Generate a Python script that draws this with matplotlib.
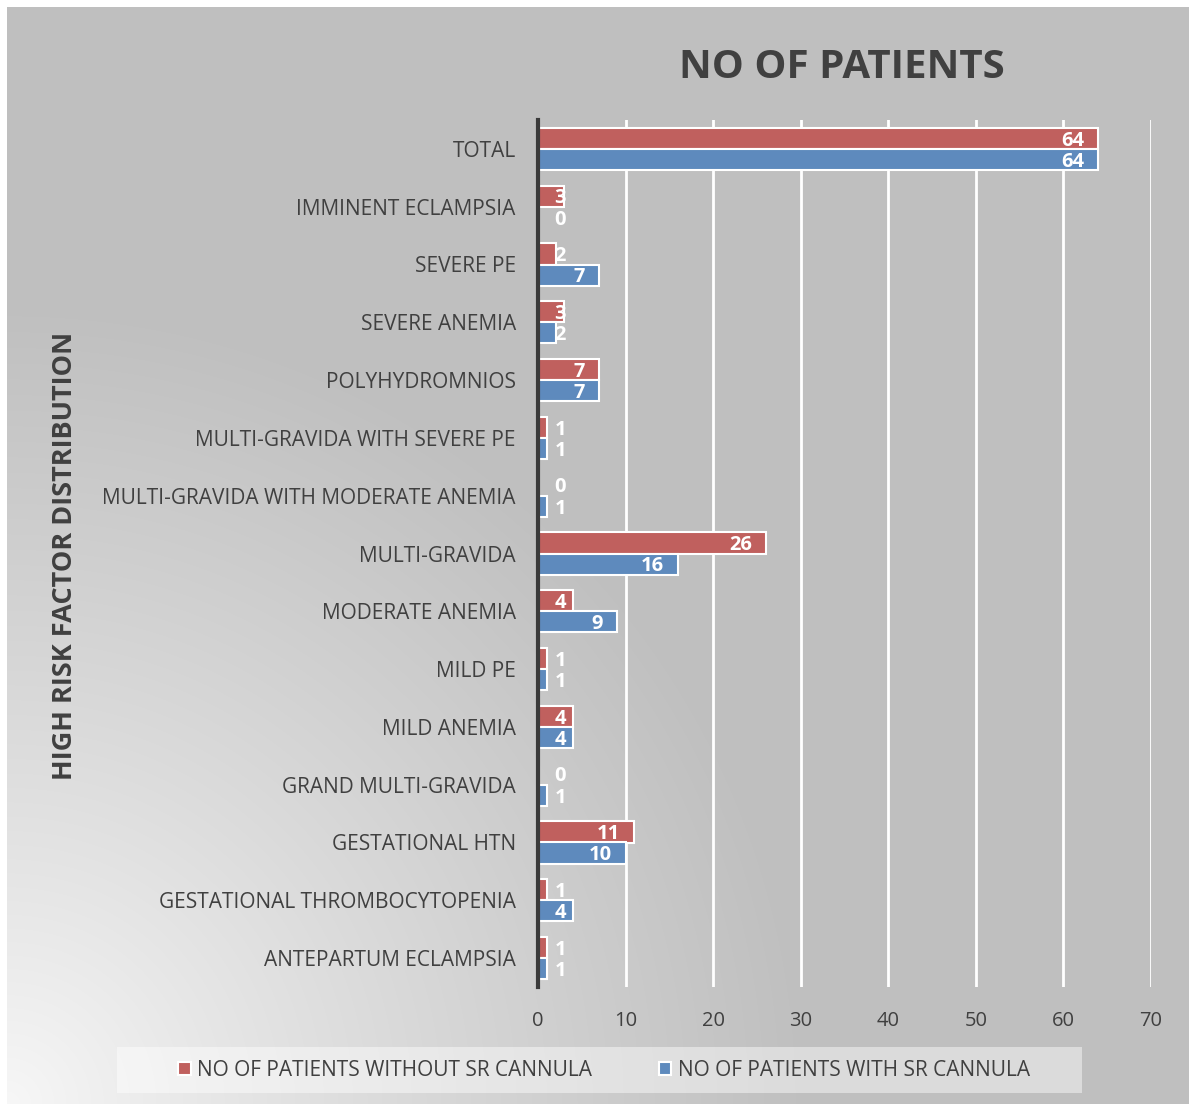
import numpy as np
import matplotlib
matplotlib.use('Agg')
import matplotlib.pyplot as plt
from matplotlib.patches import Rectangle

# Data (top to bottom as shown)
categories = ['TOTAL', 'IMMINENT ECLAMPSIA', 'SEVERE PE', 'SEVERE ANEMIA', 'POLYHYDROMNIOS',
              'MULTI-GRAVIDA WITH SEVERE PE', 'MULTI-GRAVIDA WITH MODERATE ANEMIA', 'MULTI-GRAVIDA',
              'MODERATE ANEMIA', 'MILD PE', 'MILD ANEMIA', 'GRAND MULTI-GRAVIDA', 'GESTATIONAL HTN',
              'GESTATIONAL THROMBOCYTOPENIA', 'ANTEPARTUM ECLAMPSIA']
without_sr = [64, 3, 2, 3, 7, 1, 0, 26, 4, 1, 4, 0, 11, 1, 1]
with_sr = [64, 0, 7, 2, 7, 1, 1, 16, 9, 1, 4, 1, 10, 4, 1]
xticks = [0, 10, 20, 30, 40, 50, 60, 70]

RED = '#C0605E'
BLUE = '#5E8ABD'
TXT = '#404040'
FONT = 'Open Sans'

W, H = 1189, 1104
fig = plt.figure(figsize=(W / 100, H / 100), dpi=100)
fig.patch.set_facecolor('white')

# background panel with radial gradient (light at bottom-left)
bg = fig.add_axes([7 / W, 0, 1 - 7 / W, 1 - 7 / H])
bg.set_axis_off()
yy, xx = np.mgrid[0:H - 7, 0:W - 7]
d = np.hypot(xx, (H - 7) - yy)
t = np.clip(d / 800.0, 0, 1) ** 0.9
shade = 0.97 - (0.97 - 0.75) * t
bg.imshow(np.dstack([shade] * 3), aspect='auto', extent=[0, 1, 0, 1], origin='upper')
bg.set_xlim(0, 1)
bg.set_ylim(0, 1)

ax = fig.add_axes([538 / W, 1 - 987 / H, (1151 - 538) / W, (987 - 120) / H])
ax.patch.set_alpha(0)

n = len(categories)
y = np.arange(n)
bh = 0.365
ax.barh(y - bh / 2, without_sr, height=bh, color=RED, edgecolor='white', linewidth=1.5,
        label='NO OF PATIENTS WITHOUT SR CANNULA', zorder=3)
ax.barh(y + bh / 2, with_sr, height=bh, color=BLUE, edgecolor='white', linewidth=1.5,
        label='NO OF PATIENTS WITH SR CANNULA', zorder=3)

for i in range(n):
    for v, off in ((without_sr[i], -bh / 2), (with_sr[i], bh / 2)):
        ax.text(max(v - 1.6, 3.2), i + off + 0.04, str(v), ha='right', va='center',
                color='white', fontsize=14.5, fontweight='bold', family=FONT, zorder=4)

ax.set_xlim(0, 70)
ax.set_ylim(n - 0.5, -0.5)
ax.set_xticks(xticks)
ax.set_yticks(y)
ax.set_yticklabels(categories, family=FONT, fontsize=15, color=TXT)
for lab in ax.get_xticklabels():
    lab.set_family(FONT)
    lab.set_fontsize(14.5)
    lab.set_color(TXT)
ax.tick_params(axis='both', length=0)
ax.tick_params(axis='x', pad=17)
ax.tick_params(axis='y', pad=16)
ax.grid(axis='x', color='white', linewidth=2, zorder=1)
for s in ['top', 'right', 'bottom']:
    ax.spines[s].set_visible(False)
ax.spines['left'].set_color('#3a3a3a')
ax.spines['left'].set_linewidth(3)
ax.spines['left'].set_zorder(5)

fig.text(842 / W, 1 - 67 / H, 'NO OF PATIENTS', ha='center', va='center',
         fontsize=29, fontweight='bold', color=TXT, family=FONT)
fig.text(65 / W, 1 - 556 / H, 'HIGH RISK FACTOR DISTRIBUTION', ha='center', va='center',
         rotation=90, fontsize=19.5, fontweight='bold', color=TXT, family=FONT)

# legend box
fig.patches.append(Rectangle((117 / W, 1 - 1093 / H), (1082 - 117) / W, 46 / H,
                             transform=fig.transFigure, facecolor='white', alpha=0.45,
                             edgecolor='none', zorder=0))
leg = fig.legend(loc='center', bbox_to_anchor=(604 / W, 1 - 1070 / H), ncol=2, frameon=False,
                 prop={'family': FONT, 'size': 15}, handlelength=0.6, handleheight=0.6,
                 handletextpad=0.3, columnspacing=3.2)
for txt in leg.get_texts():
    txt.set_color(TXT)

fig.savefig('out.png', dpi=100)
